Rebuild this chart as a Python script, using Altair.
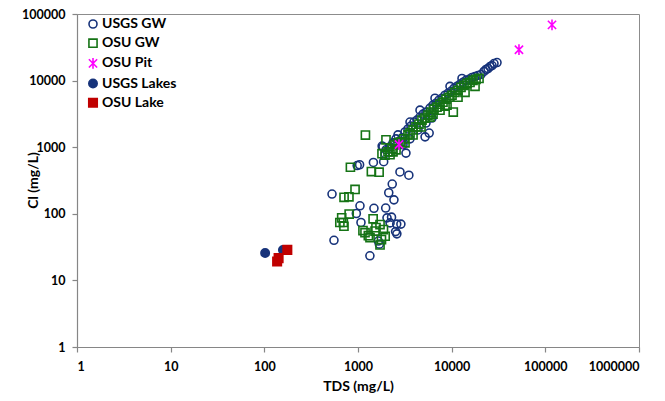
import altair as alt
import pandas as pd

series_names = ["USGS GW", "OSU GW", "OSU Pit", "USGS Lakes", "OSU Lake"]

# USGS groundwater (open navy circles)
usgs_gw_tds = [528, 554, 980, 1040, 1460, 1880, 2806, 3490, 2320, 2130, 2420, 1050, 960, 1480, 1975,
               1076, 1340, 2040, 2280, 2200, 2590, 2870, 2520, 2600, 1650, 1690, 3250, 1810, 1850, 1950,
               5200, 5750,
               1991, 2196, 2364, 2545, 2673, 2949, 3175, 3418, 3680, 3961, 4264, 4591, 4942, 5319, 5870,
               6320, 6805, 7323, 7882, 8488, 9138, 9835, 10590, 11400, 12270, 13210, 14220, 15310, 16480,
               17750, 19100, 20570, 22140, 23260, 24430, 25660, 26960, 28310, 30480,
               3023, 3591, 4370, 5319, 6166, 2877,
               4591, 6637, 9596, 12890, 3591]
usgs_gw_cl = [198, 40, 530, 545, 590, 606, 425, 380, 280, 207, 162, 132, 101, 121, 122,
              74, 23.4, 87, 89, 73, 70, 70, 54, 50, 39, 35, 815, 1040, 1014, 800,
              1430, 1630,
              915, 1014, 1163, 1334, 1530, 1380, 1695, 1878, 2082, 2388, 2557, 2834, 3141, 3364, 3858,
              4276, 4579, 5075, 5434, 6024, 6449, 6907, 7655, 8199, 8780, 9402, 10070, 10420, 11160,
              11550, 11950, 12370, 13710, 14680, 15190, 16270, 16840, 18030, 18660,
              1086, 1334, 1815, 2307, 2738, 1203,
              3603, 5434, 8199, 10780, 2388]

# OSU groundwater (open green squares)
osu_gw_tds = [1200, 1990, 830, 1390, 1680, 930, 710, 800, 805, 670, 697, 640, 708, 1450, 1130,
              1290, 1520, 1718, 1870, 1950, 1718, 1780, 10400, 1556, 1343, 1188, 1804, 1942,
              2091, 2307, 2483, 2673, 2877, 3098, 3418, 3591, 3866, 4160, 4478, 4823, 5190, 5589, 6017,
              6476, 6974, 7506, 8078, 8698, 9365, 10080, 10850, 11680, 12580, 13540, 14570, 15700,
              16890, 18190, 19580,
              2196, 2364, 2545, 3175, 3866, 4704, 7506, 8917, 11680, 6320,
              5870, 8488, 13880, 17750]
osu_gw_cl = [1520, 1290, 500, 430, 422, 232, 177, 180, 99, 87, 74, 74, 65, 84, 56,
             47, 55, 69, 58, 46, 34, 41, 3365, 62, 44, 52, 798, 760,
             854, 947, 1086, 1163, 1203, 1334, 1530, 1638, 1815, 2012, 2229, 2557, 2738, 3035, 3364,
             3728, 3993, 4425, 4739, 5251, 5623, 6024, 6674, 7148, 7922, 8485, 9085, 9402,
             10070, 10420, 10780,
             771, 854, 915, 1163, 1530, 2012, 3603, 4276, 5623, 3141,
             2834, 4131, 6674, 8199]

# OSU pit (magenta asterisks)
osu_pit_tds = [117800, 52300, 2740]
osu_pit_cl = [68600, 29100, 1097]

# USGS lakes (filled navy circles)
usgs_lakes_tds = [102, 158]
usgs_lakes_cl = [25.7, 28.7]

# OSU lake (filled red squares)
osu_lake_tds = [176, 142, 137]
osu_lake_cl = [28.7, 21.6, 19.2]

x_ticks = [1, 10, 100, 1000, 10000, 100000, 1000000]
y_ticks = [1, 10, 100, 1000, 10000, 100000]

groups = [
    ("USGS GW", usgs_gw_tds, usgs_gw_cl),
    ("OSU GW", osu_gw_tds, osu_gw_cl),
    ("OSU Pit", osu_pit_tds, osu_pit_cl),
    ("USGS Lakes", usgs_lakes_tds, usgs_lakes_cl),
    ("OSU Lake", osu_lake_tds, osu_lake_cl),
]
rows = []
for name, tds, cl in groups:
    for t, c in zip(tds, cl):
        rows.append({"series": name, "TDS": t, "Cl": c})
df = pd.DataFrame(rows)

navy = "#17337A"
green = "#157315"
magenta = "#FF00FF"
red = "#C00000"
asterisk = "M-1,-1L1,1M-1,1L1,-1M0,-1.3L0,1.3"

chart = alt.Chart(df).mark_point(opacity=1, strokeWidth=1.6).encode(
    x=alt.X("TDS:Q",
            scale=alt.Scale(type="log", domain=[1, 1000000], nice=False),
            axis=alt.Axis(values=x_ticks, format="d", title="TDS (mg/L)",
                          labelPadding=8, titleY=39, titleBaseline="middle")),
    y=alt.Y("Cl:Q",
            scale=alt.Scale(type="log", domain=[1, 100000], nice=False),
            axis=alt.Axis(values=y_ticks, format="d", title="Cl (mg/L)",
                          labelPadding=7, titleX=-44, titleY=166, titleAngle=270,
                          titleBaseline="middle")),
    shape=alt.Shape("series:N", scale=alt.Scale(domain=series_names,
                    range=["circle", "square", asterisk, "circle", "square"]),
                    legend=alt.Legend(title=None)),
    stroke=alt.Stroke("series:N", scale=alt.Scale(domain=series_names,
                      range=[navy, green, magenta, navy, red]),
                      legend=alt.Legend(title=None)),
    fill=alt.Fill("series:N", scale=alt.Scale(domain=series_names,
                  range=["transparent", "transparent", "transparent", navy, red]),
                  legend=alt.Legend(title=None)),
    size=alt.Size("series:N", scale=alt.Scale(domain=series_names,
                  range=[64, 72, 90, 38, 76]),
                  legend=alt.Legend(title=None)),
).properties(
    width=562, height=333,
    autosize=alt.AutoSizeParams(type="none"),
    padding={"left": 69, "top": 6, "right": 12, "bottom": 48},
).configure_view(
    stroke="#8C8C8C", strokeWidth=1
).configure_axis(
    grid=False, domainColor="#868686", domainWidth=1.2, tickColor="#868686",
    tickSize=5, tickWidth=1.2,
    labelFont="Lato", labelFontSize=12.5, labelFontWeight="bold", labelColor="#000000",
    titleFont="Lato", titleFontSize=14, titleFontWeight="bold", titleColor="#000000",
).configure_legend(
    orient="none", legendX=9, legendY=3, padding=0,
    labelFont="Lato", labelFontSize=14, labelFontWeight="bold", labelColor="#000000",
    rowPadding=3.2, labelOffset=2, symbolStrokeWidth=1.6,
)

chart.save("out.html", embed_options={"renderer": "svg", "actions": False})
